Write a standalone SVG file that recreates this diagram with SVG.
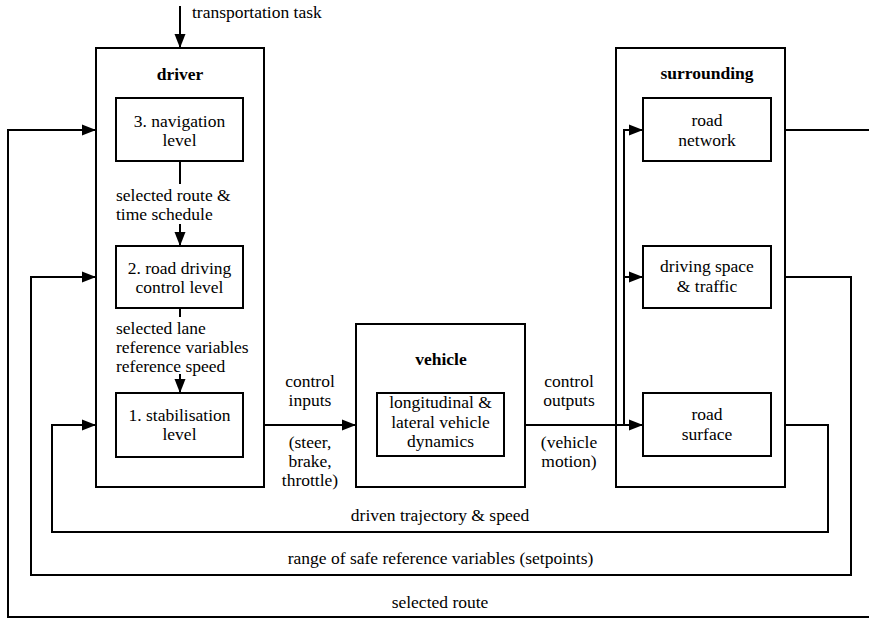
<svg xmlns="http://www.w3.org/2000/svg" width="869" height="619" viewBox="0 0 869 619" font-family="'Liberation Serif', 'DejaVu Serif', serif">
  <style>
    .box { fill: #fff; stroke: #000; stroke-width: 2; }
    .line { fill: none; stroke: #000; stroke-width: 2; }
    text { font-family: 'Liberation Serif', 'Times New Roman', 'DejaVu Serif', serif; font-size: 17.5px; fill: #000; }
    .title { font-weight: bold; text-anchor: middle; }
    .c { text-anchor: middle; }
  </style>
  <defs>
    <marker id="arrow" markerWidth="14" markerHeight="12" refX="14" refY="6" orient="auto" markerUnits="userSpaceOnUse">
      <path d="M0,0.5 L14,6 L0,11.5 z" fill="#000"/>
    </marker>
  </defs>

  <!-- driver block with its three levels -->
  <g id="driver">
    <rect class="box" x="96" y="48" width="168" height="439"/>
    <text class="title" x="180" y="80">driver</text>
  </g>
  <g id="navigation-level">
    <rect class="box" x="116" y="98" width="127" height="63"/>
    <text class="c" x="179.5" y="127">3. navigation</text>
    <text class="c" x="179.5" y="146">level</text>
  </g>
  <g id="road-driving-level">
    <rect class="box" x="116" y="246" width="127" height="62"/>
    <text class="c" x="179.5" y="274">2. road driving</text>
    <text class="c" x="179.5" y="293">control level</text>
  </g>
  <g id="stabilisation-level">
    <rect class="box" x="116" y="393" width="127" height="64"/>
    <text class="c" x="179.5" y="421">1. stabilisation</text>
    <text class="c" x="179.5" y="440">level</text>
  </g>

  <!-- vehicle block -->
  <g id="vehicle">
    <rect class="box" x="356" y="324" width="169" height="163"/>
    <text class="title" x="441" y="365">vehicle</text>
  </g>
  <g id="vehicle-dynamics">
    <rect class="box" x="377" y="393" width="127" height="63"/>
    <text class="c" x="440.5" y="408">longitudinal &amp;</text>
    <text class="c" x="440.5" y="428">lateral vehicle</text>
    <text class="c" x="440.5" y="447">dynamics</text>
  </g>

  <!-- surrounding block -->
  <g id="surrounding">
    <rect class="box" x="616" y="48" width="169" height="439"/>
    <text class="title" x="707" y="79">surrounding</text>
  </g>
  <g id="road-network">
    <rect class="box" x="643" y="98" width="128" height="63"/>
    <text class="c" x="707" y="126">road</text>
    <text class="c" x="707" y="146">network</text>
  </g>
  <g id="driving-space">
    <rect class="box" x="643" y="246" width="128" height="62"/>
    <text class="c" x="707" y="272">driving space</text>
    <text class="c" x="707" y="292">&amp; traffic</text>
  </g>
  <g id="road-surface">
    <rect class="box" x="643" y="393" width="128" height="63"/>
    <text class="c" x="707" y="420">road</text>
    <text class="c" x="707" y="440">surface</text>
  </g>

  <!-- connectors -->
  <g id="connectors">
    <!-- task input -->
    <line class="line" x1="180" y1="6" x2="180" y2="48" marker-end="url(#arrow)"/>
    <!-- between driver levels -->
    <line class="line" x1="180" y1="161" x2="180" y2="184"/>
    <line class="line" x1="180" y1="224" x2="180" y2="246" marker-end="url(#arrow)"/>
    <line class="line" x1="180" y1="308" x2="180" y2="317"/>
    <line class="line" x1="180" y1="374" x2="180" y2="393" marker-end="url(#arrow)"/>
    <!-- driver -> vehicle -> surrounding -->
    <line class="line" x1="264" y1="425" x2="356" y2="425" marker-end="url(#arrow)"/>
    <line class="line" x1="525" y1="425" x2="643" y2="425" marker-end="url(#arrow)"/>
    <!-- distribution inside surrounding -->
    <polyline class="line" points="624,425 624,130 643,130" marker-end="url(#arrow)"/>
    <line class="line" x1="624" y1="277" x2="643" y2="277" marker-end="url(#arrow)"/>
    <!-- feedback loops -->
    <polyline class="line" points="785,425 828,425 828,532 52,532 52,425 96,425" marker-end="url(#arrow)"/>
    <polyline class="line" points="785,277 851,277 851,575 31,575 31,277 96,277" marker-end="url(#arrow)"/>
    <line class="line" x1="785" y1="130" x2="870" y2="130"/>
    <polyline class="line" points="870,617 8,617 8,130 96,130" marker-end="url(#arrow)"/>
  </g>

  <!-- connector labels -->
  <g id="labels">
    <text x="192" y="18">transportation task</text>
    <text x="116" y="201">selected route &amp;</text>
    <text x="116" y="220">time schedule</text>
    <text x="116" y="334">selected lane</text>
    <text x="116" y="353">reference variables</text>
    <text x="116" y="372">reference speed</text>
    <text class="c" x="310" y="387">control</text>
    <text class="c" x="310" y="406">inputs</text>
    <text class="c" x="310" y="448">(steer,</text>
    <text class="c" x="310" y="467">brake,</text>
    <text class="c" x="310" y="486">throttle)</text>
    <text class="c" x="569" y="387">control</text>
    <text class="c" x="569" y="406">outputs</text>
    <text class="c" x="569" y="448">(vehicle</text>
    <text class="c" x="569" y="467">motion)</text>
    <text class="c" x="440" y="521">driven trajectory &amp; speed</text>
    <text class="c" x="440.5" y="564">range of safe reference variables (setpoints)</text>
    <text class="c" x="440" y="608">selected route</text>
  </g>
</svg>
